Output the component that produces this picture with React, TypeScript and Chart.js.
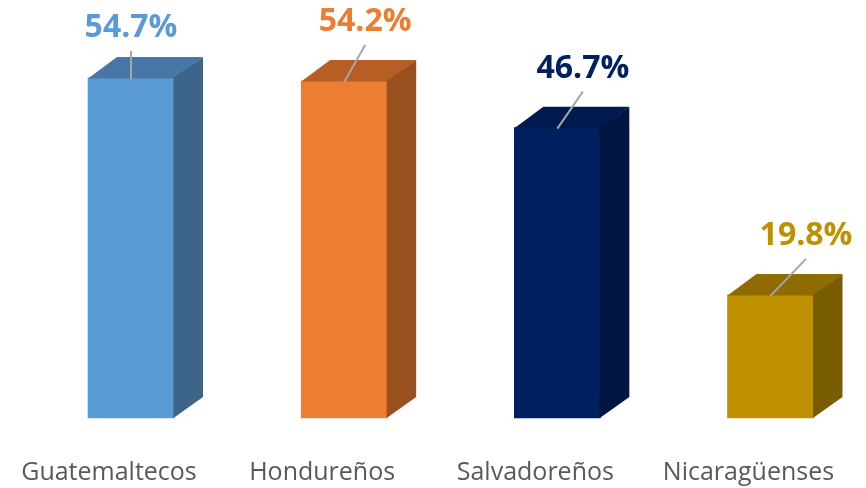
import React, { useEffect, useRef } from "react";
import { Chart, registerables } from "chart.js";

Chart.register(...registerables);

const categories = ["Guatemaltecos", "Hondureños", "Salvadoreños", "Nicaragüenses"];
const values = [54.7, 54.2, 46.7, 19.8];
const valueLabels = ["54.7%", "54.2%", "46.7%", "19.8%"];

const frontColors = ["#5B9BD5", "#ED7D31", "#002060", "#BF9000"];
const topColors = ["#4677A7", "#B65E23", "#001A50", "#8F6C00"];
const sideColors = ["#3C6589", "#9A4F1E", "#001541", "#7A5C00"];

// layout of value labels relative to the top-front-centre of each bar
const labelDx = [0, 21, 25.5, 35.5];
const labelDy = [-41, -50, -50, -50];

const DEPTH_X = 29;
const DEPTH_Y = -21;

const bar3d = {
  id: "bar3d",
  afterDatasetsDraw(chart: any) {
    const ctx = chart.ctx as CanvasRenderingContext2D;
    const meta = chart.getDatasetMeta(0);
    meta.data.forEach((bar: any, i: number) => {
      const { x, y, base, width } = bar.getProps(["x", "y", "base", "width"], true);
      const l = x - width / 2;
      const r = x + width / 2;
      ctx.save();
      // top face
      ctx.fillStyle = topColors[i];
      ctx.beginPath();
      ctx.moveTo(l, y + 0.5);
      ctx.lineTo(l + DEPTH_X, y + DEPTH_Y);
      ctx.lineTo(r + DEPTH_X, y + DEPTH_Y);
      ctx.lineTo(r, y + 0.5);
      ctx.closePath();
      ctx.fill();
      // side face
      ctx.fillStyle = sideColors[i];
      ctx.beginPath();
      ctx.moveTo(r - 0.5, y);
      ctx.lineTo(r + DEPTH_X, y + DEPTH_Y);
      ctx.lineTo(r + DEPTH_X, base + DEPTH_Y);
      ctx.lineTo(r - 0.5, base);
      ctx.closePath();
      ctx.fill();

      // value label + leader line
      const lx = x + labelDx[i];
      const ly = y + labelDy[i];
      ctx.strokeStyle = "#A6A6A6";
      ctx.lineWidth = 2;
      ctx.beginPath();
      ctx.moveTo(lx, ly + 14);
      ctx.lineTo(x, y + 1);
      ctx.stroke();

      ctx.fillStyle = frontColors[i];
      ctx.font = "bold 32px 'Open Sans'";
      ctx.textAlign = "center";
      ctx.textBaseline = "alphabetic";
      ctx.fillText(valueLabels[i], lx, ly);

      // category label
      ctx.fillStyle = "#595959";
      ctx.font = "25px 'Open Sans'";
      ctx.fillText(categories[i], x - 22, 480);
      ctx.restore();
    });
  },
};

export default function App() {
  const ref = useRef<HTMLCanvasElement | null>(null);
  useEffect(() => {
    document.body.style.margin = "0";
    const canvas = ref.current!;
    const chart = new Chart(canvas, {
      type: "bar",
      data: {
        labels: categories,
        datasets: [
          {
            data: values,
            backgroundColor: frontColors,
            borderWidth: 0,
            barThickness: 86,
            clip: false as any,
          },
        ],
      },
      options: {
        responsive: false,
        animation: false,
        devicePixelRatio: 1,
        layout: { padding: { left: 131, right: 95.5, top: 45, bottom: 70 } },
        plugins: { legend: { display: false }, tooltip: { enabled: false } },
        scales: {
          x: { display: false, offset: false },
          y: { display: false, min: 0, max: 60 },
        },
      },
      plugins: [bar3d],
    });
    return () => chart.destroy();
  }, []);
  return (
    <div style={{ width: 866, height: 488, background: "#fff" }}>
      <canvas ref={ref} width={866} height={488} />
    </div>
  );
}
